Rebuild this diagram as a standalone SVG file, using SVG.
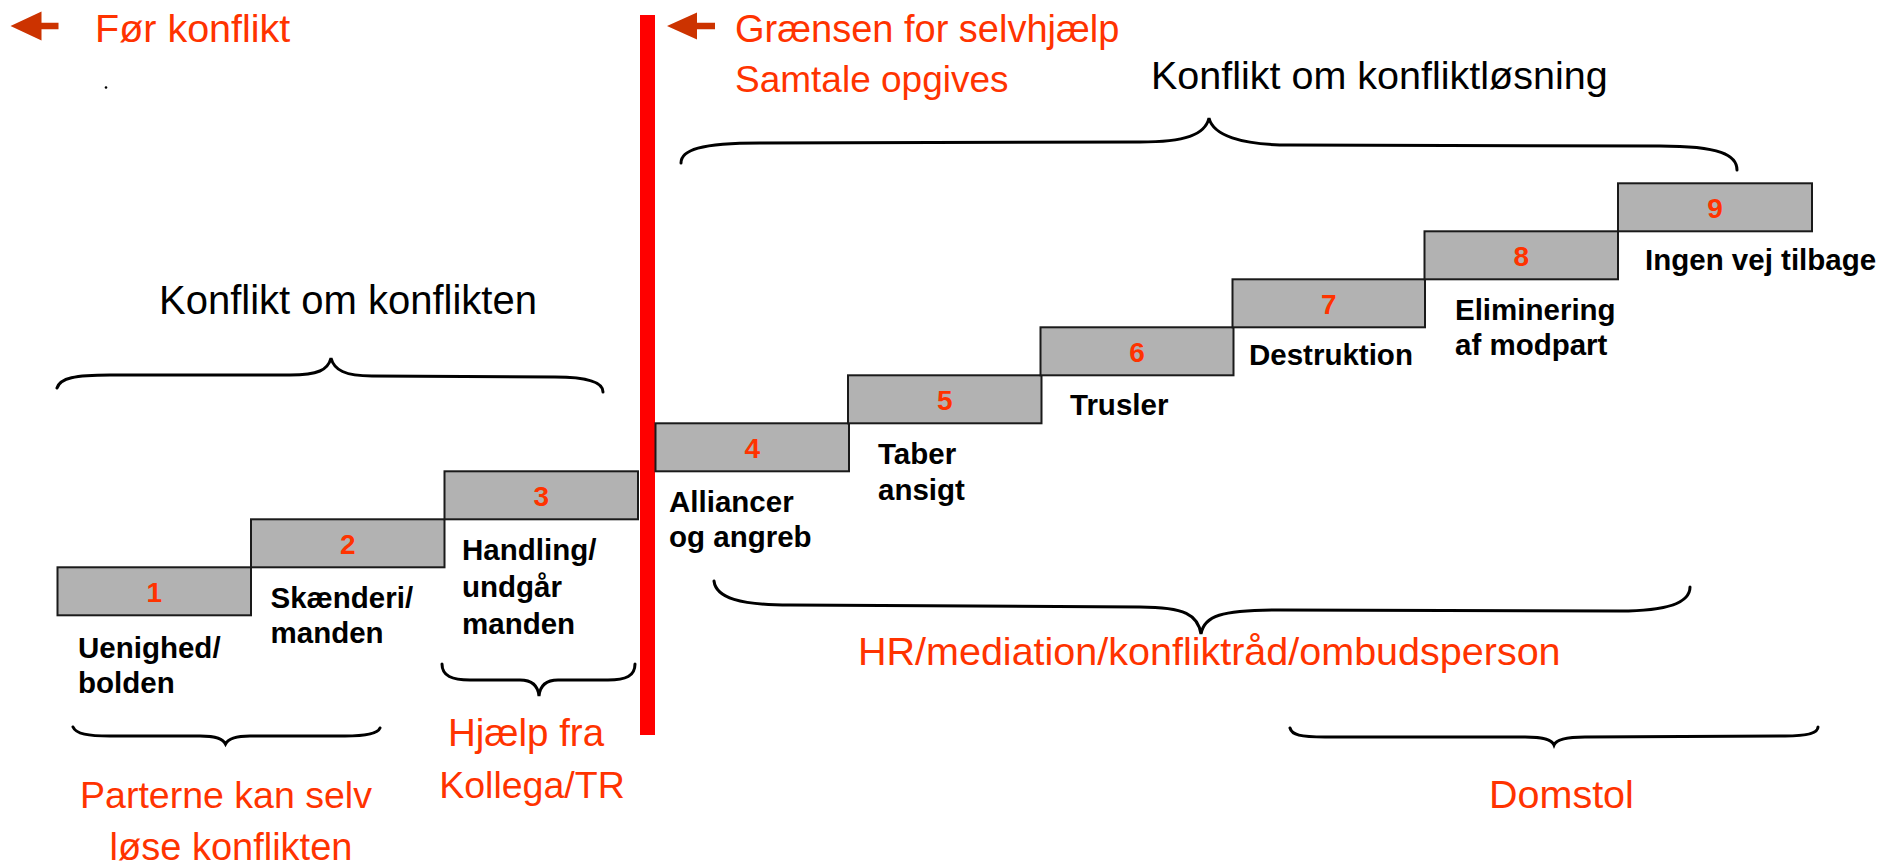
<svg xmlns="http://www.w3.org/2000/svg" width="1882" height="866" viewBox="0 0 1882 866">
<style>
.box{fill:#b2b2b2;stroke:#1a1a1a;stroke-width:2}
.num{font-family:"Liberation Sans",Arial,sans-serif;font-weight:bold;font-size:28px;fill:#ff3300;text-anchor:middle}
.lbl{font-family:"Liberation Sans",Arial,sans-serif;font-weight:bold;font-size:29.5px;fill:#000}
.red{font-family:"Liberation Sans",Arial,sans-serif;font-size:38.5px;fill:#ff3300}
.blk{font-family:"Liberation Sans",Arial,sans-serif;font-size:39.5px;fill:#000}
.brace{fill:none;stroke:#000;stroke-width:3;stroke-linecap:round}
.arr{fill:#cc3300}
</style>
<rect width="1882" height="866" fill="#fff"/>

<g id="bar"><rect x="640" y="15" width="15" height="720" fill="#ff0000"/></g>

<g id="header-left">
<path class="arr" d="M10.5,26 L41.5,11.5 L41.5,22.7 L58.5,22.7 L58.5,29.3 L41.5,29.3 L41.5,40.5 Z"/>
<text class="red" x="95" y="42" style="font-size:39.5px">Før konflikt</text>
<circle cx="106" cy="87.5" r="1.3" fill="#000"/>
</g>

<g id="header-right">
<path class="arr" d="M667,26 L697,12.5 L697,22.7 L715,22.7 L715,29.3 L697,29.3 L697,39.5 Z"/>
<text class="red" x="735" y="42" style="font-size:38px">Grænsen for selvhjælp</text>
<text class="red" x="735" y="92" style="font-size:37px">Samtale opgives</text>
</g>

<g id="steps">
<g id="step1"><rect class="box" x="57.5" y="567.3" width="193.5" height="48"/><text class="num" x="154.2" y="601.5">1</text>
<text class="lbl" x="78" y="658">Uenighed/</text><text class="lbl" x="78" y="693">bolden</text></g>
<g id="step2"><rect class="box" x="251" y="519.3" width="193.5" height="48"/><text class="num" x="347.7" y="553.5">2</text>
<text class="lbl" x="270.5" y="608">Skænderi/</text><text class="lbl" x="270.5" y="643">manden</text></g>
<g id="step3"><rect class="box" x="444.5" y="471.3" width="193.5" height="48"/><text class="num" x="541.2" y="505.5">3</text>
<text class="lbl" x="462" y="560">Handling/</text><text class="lbl" x="462" y="597">undgår</text><text class="lbl" x="462" y="634">manden</text></g>
<g id="step4"><rect class="box" x="655.5" y="423.3" width="193.5" height="48"/><text class="num" x="752.2" y="457.5">4</text>
<text class="lbl" x="669" y="511.5">Alliancer</text><text class="lbl" x="669" y="547">og angreb</text></g>
<g id="step5"><rect class="box" x="848" y="375.3" width="193.5" height="48"/><text class="num" x="944.7" y="409.5">5</text>
<text class="lbl" x="878" y="463.5">Taber</text><text class="lbl" x="878" y="499.5">ansigt</text></g>
<g id="step6"><rect class="box" x="1040.5" y="327.3" width="193" height="48"/><text class="num" x="1137" y="361.5">6</text>
<text class="lbl" x="1070" y="415">Trusler</text></g>
<g id="step7"><rect class="box" x="1232.5" y="279.3" width="192.5" height="48"/><text class="num" x="1328.7" y="313.5">7</text>
<text class="lbl" x="1249" y="365">Destruktion</text></g>
<g id="step8"><rect class="box" x="1424.5" y="231.3" width="193.5" height="48"/><text class="num" x="1521.2" y="265.5">8</text>
<text class="lbl" x="1455" y="320">Eliminering</text><text class="lbl" x="1455" y="355">af modpart</text></g>
<g id="step9"><rect class="box" x="1618" y="183.3" width="194" height="48"/><text class="num" x="1715" y="217.5">9</text>
<text class="lbl" x="1645" y="270">Ingen vej tilbage</text></g>
</g>

<g id="braces">
<path class="brace" d="M681,163 C681,150 700,143 760,143 L1140,142 C1185,142 1205,135 1209,118 C1213,135 1240,145 1290,145 L1660,146 C1720,146 1737,155 1737,170"/>
<path class="brace" d="M57,388 C60,378 75,375 110,375 L290,375 C318,375 328,370 331,358 C334,370 345,376 372,376 L555,377 C590,377 603,383 603,392"/>
<path class="brace" d="M73,727 C76,734 88,736 110,736 L200,736 C217,736 223,739 225.5,744 C228,739 234,736 250,736 L345,736 C368,736 378,733 380,728"/>
<path class="brace" d="M442,664 C442,676 452,680 470,680 L520,680 C532,680 538,686 539,696 C540,686 546,680 558,680 L608,680 C626,680 635,676 635,664"/>
<path class="brace" d="M714,581 C716,598 740,605 790,605 L1140,607 C1185,607 1198,615 1201,634 C1204,616 1220,610 1280,610 L1620,611 C1675,611 1690,600 1690,587"/>
<path class="brace" d="M1290,728 C1292,735 1300,737 1325,737 L1525,737 C1545,737 1552,740 1554,745 C1556,740 1565,737 1585,737 L1785,736 C1810,736 1818,732 1818,727"/>
</g>

<g id="captions">
<text class="blk" x="1151" y="88.5" style="font-size:39.5px">Konflikt om konfliktløsning</text>
<text class="blk" x="159" y="313.5" style="font-size:40px">Konflikt om konflikten</text>
<text class="red" x="858" y="665" style="font-size:39.5px">HR/mediation/konfliktråd/ombudsperson</text>
<text class="red" x="1489" y="808" style="font-size:39.5px">Domstol</text>
<text class="red" x="526" y="746" text-anchor="middle" style="font-size:38.5px">Hjælp fra</text>
<text class="red" x="532" y="798" text-anchor="middle" style="font-size:37.5px">Kollega/TR</text>
<text class="red" x="226" y="808" text-anchor="middle" style="font-size:37.5px">Parterne kan selv</text>
<text class="red" x="231" y="860" text-anchor="middle" style="font-size:38px">løse konflikten</text>
</g>
</svg>
